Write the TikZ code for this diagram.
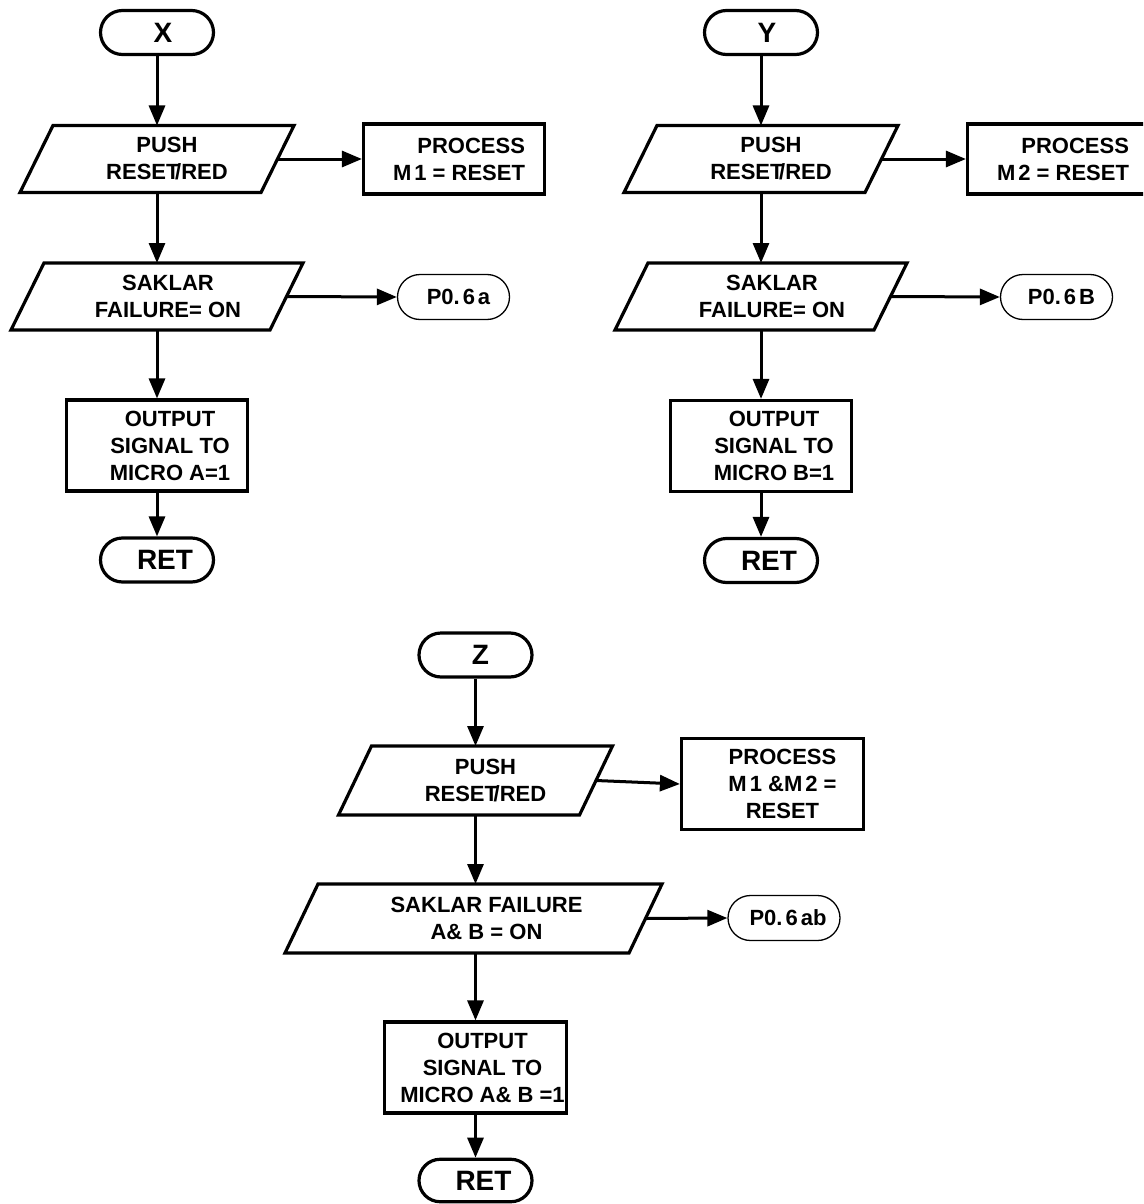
\documentclass[tikz,border=0pt]{standalone}
\usepackage{fontspec}
\setmainfont{Liberation Sans}
\usetikzlibrary{arrows.meta,shapes.misc}
\begin{document}
\begin{tikzpicture}[x=1pt,y=-1pt,line join=miter,
  lbl/.style={align=center, inner sep=0pt, font=\fontsize{22}{27}\selectfont\bfseries},
  biglbl/.style={inner sep=0pt, font=\fontsize{28}{32}\selectfont\bfseries},
  heavy/.style={draw=black, line width=3.2pt},
  term/.style={heavy, rounded rectangle, inner sep=0pt, minimum width=113pt, minimum height=44pt},
  conn/.style={draw=black, line width=1.3pt, rounded rectangle, inner sep=0pt, minimum width=112pt, minimum height=45pt},
  procbox/.style={heavy, rectangle, inner sep=0pt, minimum width=181pt},
  io/.style={rectangle, inner sep=0pt, outer sep=0pt, minimum height=67pt},
  arr/.style={line width=3pt, -{Triangle[length=20pt,width=16pt]}}]

\clip (0,0) rectangle (1143,1204);
\fill[white] (0,0) rectangle (1143,1204);

% ---------------- routine X ----------------
\node[term] (tx) at (157,32.5) {};
\node[io, minimum width=241pt] (ux) at (157,159) {};
\node[procbox, minimum height=70pt] (px) at (454,159) {};
\node[io, minimum width=259pt] (sx) at (157,296.5) {};
\node[conn] (ax) at (453.5,297) {};
\node[procbox, minimum height=91pt] (ox) at (157,445.5) {};
\node[term] (rx) at (157,560) {};

% ---------------- routine Y ----------------
\node[term] (ty) at (761,32.5) {};
\node[io, minimum width=241pt] (uy) at (761,159) {};
\node[procbox, minimum height=70pt] (py) at (1058,159) {};
\node[io, minimum width=259pt] (sy) at (761,296.5) {};
\node[conn] (ay) at (1056.5,297) {};
\node[procbox, minimum height=91pt] (oy) at (761,446) {};
\node[term] (ry) at (761,560.5) {};

% ---------------- routine Z ----------------
\node[term] (tz) at (475.5,655) {};
\node[io, minimum width=241pt, minimum height=69pt] (uz) at (475.5,780.5) {};
\node[procbox, minimum width=182pt, minimum height=91pt] (pz) at (772.5,784) {};
\node[io, minimum width=344pt, minimum height=69pt] (sz) at (473.5,918.5) {};
\node[conn] (az) at (784,918) {};
\node[procbox, minimum width=182pt, minimum height=91pt] (oz) at (475.5,1067.5) {};
\node[term, minimum height=42.5pt] (rz) at (475.5,1180.5) {};

% parallelogram outlines of the input/output steps
\foreach \n in {ux,sx,uy,sy,uz,sz}
  \draw[heavy] ([xshift=16.5pt]\n.north west) -- ([xshift=16.5pt]\n.north east)
    -- ([xshift=-16.5pt]\n.south east) -- ([xshift=-16.5pt]\n.south west) -- cycle;

% ---------------- texts ----------------
\node[biglbl] (txT) at ([xshift=6pt]tx.center) {X};
\node[lbl] (uxT) at ([xshift=10pt]ux.center) {PUSH\\RESET\kern-.2em/RED};
\node[lbl, align=right] (pxT) at ([xshift=5pt]px.center) {PROCESS\\M\kern3pt1 = RESET};
\node[lbl] (sxT) at ([xshift=11pt]sx.center) {SAKLAR\\FAILURE= ON};
\node[lbl] (axT) at ([xshift=5pt]ax.center) {P0.\kern3pt6\kern3pt a};
\node[lbl] (oxT) at ([xshift=13pt]ox.center) {OUTPUT\\SIGNAL TO\\MICRO A=1};
\node[biglbl] (rxT) at ([xshift=8pt]rx.center) {RET};

\node[biglbl] (tyT) at ([xshift=6pt]ty.center) {Y};
\node[lbl] (uyT) at ([xshift=10pt]uy.center) {PUSH\\RESET\kern-.2em/RED};
\node[lbl, align=right] (pyT) at ([xshift=5pt]py.center) {PROCESS\\M\kern3pt2 = RESET};
\node[lbl] (syT) at ([xshift=11pt]sy.center) {SAKLAR\\FAILURE= ON};
\node[lbl] (ayT) at ([xshift=5pt]ay.center) {P0.\kern3pt6\kern3pt B};
\node[lbl] (oyT) at ([xshift=13pt]oy.center) {OUTPUT\\SIGNAL TO\\MICRO B=1};
\node[biglbl] (ryT) at ([xshift=8pt]ry.center) {RET};

\node[biglbl] (tzT) at ([xshift=5pt]tz.center) {Z};
\node[lbl] (uzT) at ([xshift=10pt]uz.center) {PUSH\\RESET\kern-.2em/RED};
\node[lbl] (pzT) at ([xshift=10pt]pz.center) {PROCESS\\M\kern3pt1 \&M\kern3pt2 =\\RESET};
\node[lbl] (szT) at ([xshift=13pt]sz.center) {SAKLAR FAILURE\\A\& B = ON};
\node[lbl] (azT) at ([xshift=4pt]az.center) {P0.\kern3pt6\kern3pt ab};
\node[lbl] (ozT) at ([xshift=7pt]oz.center) {OUTPUT\\SIGNAL TO\\MICRO A\& B =1};
\node[biglbl] (rzT) at ([xshift=8pt]rz.center) {RET};

% ---------------- connectors ----------------
\foreach \c in {x,y,z} {
  \draw[arr] (t\c) -- (t\c |- u\c.north);
  \draw[arr] (t\c |- u\c.south) -- (t\c |- s\c.north);
  \draw[arr] (t\c |- s\c.south) -- (t\c |- o\c.north);
  \draw[arr] (o\c) -- (t\c |- r\c.north);
  \draw[arr] (u\c.east) -- (p\c.west);
  \draw[arr] (s\c.east) -- (a\c.west);
}
\end{tikzpicture}
\end{document}
